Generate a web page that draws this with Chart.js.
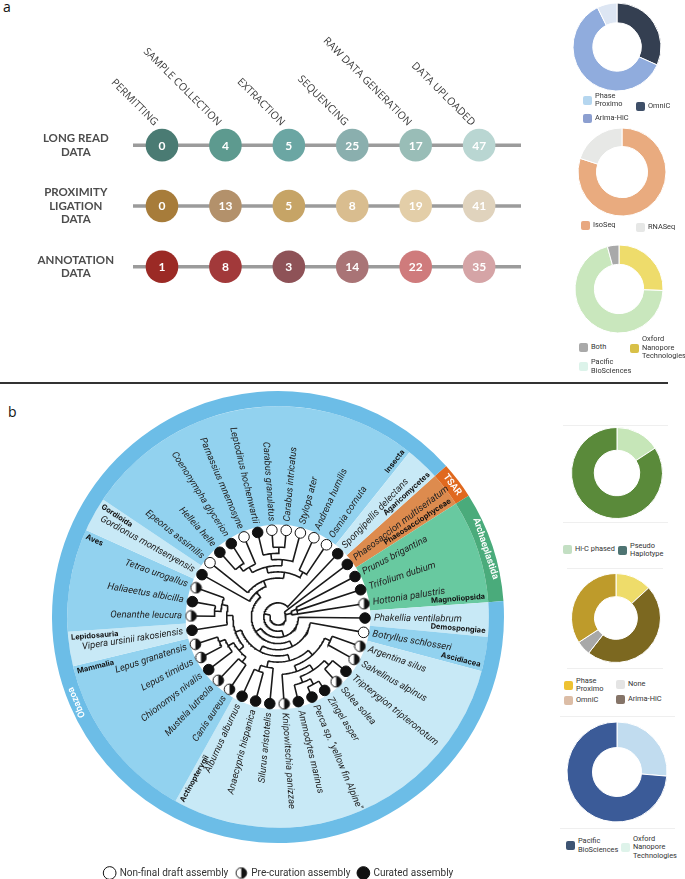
<!DOCTYPE html>
<html>
<head>
<meta charset="utf-8">
<script src="https://cdn.jsdelivr.net/npm/chart.js@4.4.1/dist/chart.umd.min.js"></script>
<style>
  body { margin: 0; width: 685px; height: 879px; position: relative; background: #fff; overflow: hidden; font-family: Roboto, sans-serif; }
  canvas, .abs { position: absolute; }
  .tag { font-family: "Open Sans", sans-serif; font-size: 14px; color: #111; }
  .leg { position: absolute; display: flex; align-items: center; height: 20px; font-family: Roboto, sans-serif; font-size: 7.4px; line-height: 8.4px; color: #333; }
  .leg i { display: inline-block; width: 9px; height: 9px; border-radius: 2px; margin-right: 3px; flex: none; }
  .sep { position: absolute; height: 1px; background: #efefef; }
  .rule { position: absolute; left: 0; top: 382px; width: 668px; height: 2px; background: #333; }
</style>
</head>
<body>
<div class="abs tag" style="left:3px;top:-3px">a</div>
<div class="abs tag" style="left:8px;top:402px">b</div>
<div class="rule"></div>

<canvas id="pipeline" width="535" height="330" style="left:0;top:0"></canvas>
<canvas id="donutProx" width="94" height="94" style="left:570px;top:0"></canvas>
<canvas id="donutRna" width="94" height="94" style="left:575px;top:125px"></canvas>
<canvas id="donutLong" width="94" height="94" style="left:572px;top:242px"></canvas>

<canvas id="treeBg" width="460" height="460" style="left:48px;top:387px"></canvas>
<canvas id="tree" width="460" height="460" style="left:48px;top:387px"></canvas>
<canvas id="treeLegend" width="400" height="70" style="left:79px;top:860px"></canvas>

<div class="sep" style="left:563px;top:425px;width:105px"></div>
<div class="sep" style="left:563px;top:522px;width:105px"></div>
<div class="sep" style="left:567px;top:568px;width:96px"></div>
<div class="sep" style="left:567px;top:668px;width:96px"></div>
<div class="sep" style="left:560px;top:716px;width:115px"></div>
<div class="sep" style="left:560px;top:828px;width:115px"></div>
<canvas id="donutPhase" width="98" height="98" style="left:568px;top:424px"></canvas>
<canvas id="donutHic" width="96" height="96" style="left:568px;top:570px"></canvas>
<canvas id="donutTech" width="106" height="106" style="left:564px;top:719px"></canvas>

<script>
// ---------- panel a: pipeline ----------
const stageLabels = ["PERMITTING", "SAMPLE COLLECTION", "EXTRACTION", "SEQUENCING", "RAW DATA GENERATION", "DATA UPLOADED"];
const rowLabels = [["LONG READ", "DATA"], ["PROXIMITY", "LIGATION", "DATA"], ["ANNOTATION", "DATA"]];
const longReadCounts = [0, 4, 5, 25, 17, 47];
const proximityCounts = [0, 13, 5, 8, 19, 41];
const annotationCounts = [1, 8, 3, 14, 22, 35];
const longReadColors = ["#4a7b73", "#5d9a8f", "#6ba6a3", "#8aafae", "#99bdb7", "#b9d6d2"];
const proximityColors = ["#a77c3a", "#b3916b", "#c6a466", "#d9bd8f", "#e3cea8", "#e0d3bd"];
const annotationColors = ["#9b2a25", "#a2393a", "#8e5257", "#a97476", "#cf7b7c", "#d5a4a6"];

// ---------- panel a: donuts ----------
const proxLabels = ["OmniC", "Arima-HiC", "Phase Proximo"];
const proxCounts = [13, 25, 3];
const rnaLabels = ["IsoSeq", "RNASeq"];
const rnaCounts = [28, 7];
const longLabels = ["Oxford Nanopore Technologies", "Pacific BioSciences", "Both"];
const longCounts = [12, 33, 2];

// ---------- panel b: donuts ----------
const phaseLabels = ["Hi-C phased", "Pseudo Haplotype"];
const phaseCounts = [6, 32];
const hicLabels = ["Phase Proximo", "OmniC", "None", "Arima-HiC"];
const hicCounts = [5, 18, 2, 13];
const techLabels = ["Oxford Nanopore Technologies", "Pacific BioSciences"];
const techCounts = [10, 28];

// ---------- panel b: tree ----------
// species, clockwise starting from Phaeosaccion
const speciesNames = [
  "Phaeosaccion multiseriatum", "Prunus brigantina", "Trifolium dubium", "Hottonia palustris",
  "Phakellia ventilabrum", "Botryllus schlosseri", "Argentina silus", "Salvelinus alpinus",
  "Tripterygion tripteronotum", "Solea solea", "Zingel asper", "Perca sp. \"yellow fin Alpine\"",
  "Ammodytes marinus", "Knipowitschia panizzae", "Silurus aristotelis", "Anaecypris hispanica",
  "Alburnus alburnus", "Canis aureus", "Mustela lutreola", "Chionomys nivalis", "Lepus timidus",
  "Lepus granatensis", "Vipera ursinii rakosiensis", "Oenanthe leucura", "Haliaeetus albicilla",
  "Tetrao urogallus", "Gordionus montsenyensis", "Epeorus assimilis", "Helleia helle",
  "Coenonympha glycerion", "Parnassius mnemosyne", "Leptodirus hochenwartii", "Carabus granulatus",
  "Carabus intricatus", "Stylops ater", "Andrena humilis", "Osmia cornuta", "Spongipellis delectans"
];
// 0 = non-final draft, 1 = pre-curation, 2 = curated
const speciesStatus = [
  2, 2, 2, 1,
  2, 0, 1, 1,
  2, 1, 2, 2,
  2, 1, 2, 2,
  2, 1, 1, 2, 1,
  1, 2, 1, 2,
  1, 2, 0, 2,
  2, 0, 2, 0,
  0, 0, 0, 0, 2
];
const statusLabels = ["Non-final draft assembly", "Pre-curation assembly", "Curated assembly"];

const treeTopology = [
  "Phaeosaccion multiseriatum",
  [["Prunus brigantina", "Trifolium dubium"], "Hottonia palustris"],
  [
    ["Phakellia ventilabrum",
      [
        ["Botryllus schlosseri",
          [
            [
              [["Argentina silus", "Salvelinus alpinus"],
                [[["Tripterygion tripteronotum", "Solea solea"],
                  [["Zingel asper", "Perca sp. \"yellow fin Alpine\""], "Ammodytes marinus"]],
                 "Knipowitschia panizzae"]],
              ["Silurus aristotelis", ["Anaecypris hispanica", "Alburnus alburnus"]]
            ],
            [
              [["Canis aureus", "Mustela lutreola"], ["Chionomys nivalis", ["Lepus timidus", "Lepus granatensis"]]],
              ["Vipera ursinii rakosiensis", [["Oenanthe leucura", "Haliaeetus albicilla"], "Tetrao urogallus"]]
            ]
          ]
        ],
        ["Gordionus montsenyensis",
          ["Epeorus assimilis",
            [
              [[["Helleia helle", "Coenonympha glycerion"], "Parnassius mnemosyne"],
               [["Leptodirus hochenwartii", ["Carabus granulatus", "Carabus intricatus"]], "Stylops ater"]],
              ["Andrena humilis", "Osmia cornuta"]
            ]
          ]
        ]
      ]
    ],
    "Spongipellis delectans"
  ]
];

// class sectors, clockwise from Phaeosaccion (number of species each)
const cladeNames = ["Phaeosacciophyceae", "Magnoliopsida", "Demospongiae", "Ascidiacea", "Actinopterygii",
  "Mammalia", "Lepidosauria", "Aves", "Gordioida", "Insecta", "Agaricomycetes"];
const cladeSizes = [1, 3, 1, 1, 11, 5, 1, 3, 1, 10, 1];
const groupNames = ["TSAR", "Archaeplastida", "Obazoa"];
const groupSizes = [1, 3, 34];

// ---------- helpers ----------
Chart.defaults.font.family = "Roboto, sans-serif";
const noise = { responsive: false, animation: false, events: [] };

function donut(id, labels, values, colors, radius, cutout) {
  return new Chart(document.getElementById(id), {
    type: "doughnut",
    data: { labels, datasets: [{ data: values, backgroundColor: colors, borderColor: "#fff", borderWidth: 1 }] },
    options: { ...noise, radius, cutout, plugins: { legend: { display: false }, tooltip: { enabled: false } } }
  });
}

// html legend: items = [label, colour, left, centreY, textWidth]
function legend(items) {
  items.forEach(([label, color, x, y, w]) => {
    const d = document.createElement("div");
    d.className = "leg";
    d.style.left = x + "px";
    d.style.top = (y - 10) + "px";
    d.innerHTML = `<i style="background:${color}"></i><span style="max-width:${w}px">${label}</span>`;
    document.body.appendChild(d);
  });
}

// ---------- pipeline chart ----------
const rowCounts = [longReadCounts, proximityCounts, annotationCounts];
const rowColors = [longReadColors, proximityColors, annotationColors];

const pipelinePlugin = {
  id: "pipelineDecor",
  beforeDatasetsDraw(chart) {
    const { ctx, chartArea, scales } = chart;
    ctx.save();
    ctx.strokeStyle = "#9b9b9b";
    ctx.lineWidth = 3.5;
    rowCounts.forEach((_, r) => {
      const y = scales.y.getPixelForValue(r);
      ctx.beginPath();
      ctx.moveTo(chartArea.left, y);
      ctx.lineTo(chartArea.right, y);
      ctx.stroke();
    });
    ctx.restore();
  },
  afterDatasetsDraw(chart) {
    const { ctx } = chart;
    ctx.save();
    ctx.fillStyle = "#fff";
    ctx.font = "bold 12px Lato, Roboto, sans-serif";
    ctx.textAlign = "center";
    ctx.textBaseline = "middle";
    rowCounts.forEach((counts, r) => {
      chart.getDatasetMeta(r).data.forEach((pt, i) => ctx.fillText(String(counts[i]), pt.x, pt.y + 0.5));
    });
    ctx.restore();
  },
  afterDraw(chart) {
    const { ctx, scales } = chart;
    const y0 = scales.y.getPixelForValue(0);
    ctx.save();
    ctx.fillStyle = "#3a3a3a";
    ctx.font = "10.5px 'Open Sans', sans-serif";
    ctx.textAlign = "right";
    ctx.textBaseline = "middle";
    stageLabels.forEach((label, i) => {
      const x = scales.x.getPixelForValue(i);
      ctx.save();
      ctx.translate(x - 6, y0 - 21);
      ctx.rotate(Math.PI / 4);
      ctx.fillText(label, 0, 0);
      ctx.restore();
    });
    ctx.restore();
  }
};

new Chart(document.getElementById("pipeline"), {
  type: "scatter",
  data: {
    datasets: rowCounts.map((counts, r) => ({
      data: counts.map((_, i) => ({ x: i, y: r })),
      pointRadius: 16.3,
      pointBackgroundColor: rowColors[r],
      pointBorderWidth: 0
    }))
  },
  options: {
    ...noise,
    layout: { autoPadding: false, padding: { top: 114.75, bottom: 15.75, left: 0, right: 14 } },
    scales: {
      x: { type: "linear", min: -0.457, max: 5.66, display: false },
      y: {
        type: "linear", min: -0.5, max: 2.5, reverse: true,
        afterFit: s => { s.width = 133; },
        afterBuildTicks: s => { s.ticks = rowLabels.map((_, i) => ({ value: i })); },
        grid: { display: false, drawTicks: false },
        border: { display: false },
        ticks: {
          callback: v => rowLabels[v],
          crossAlign: "center", padding: 19, color: "#4d4d4d",
          font: { family: "Lato, sans-serif", size: 11.5, weight: "bold", lineHeight: 1.2 }
        }
      }
    },
    plugins: { legend: { display: false }, tooltip: { enabled: false } }
  },
  plugins: [pipelinePlugin]
});

// ---------- panel a donuts ----------
donut("donutProx", proxLabels, proxCounts, ["#343f51", "#90acdd", "#dde6f3"], 44, "55%");
donut("donutRna", rnaLabels, rnaCounts, ["#e9ab7f", "#e7e8e6"], 44, "58%");
donut("donutLong", longLabels, longCounts, ["#eedc6b", "#c9e7bd", "#a9a9a9"], 44, "56%");
legend([
  [proxLabels[2], "#b5d6ef", 583, 100, 34],
  [proxLabels[0], "#3e4f68", 636, 106, 40],
  [proxLabels[1], "#8c9fd0", 583, 118, 50],
  [rnaLabels[0], "#e8a880", 581, 225.5, 40],
  [rnaLabels[1], "#e6e7e6", 636, 227, 40],
  [longLabels[2], "#a9a9a9", 579, 347, 40],
  [longLabels[0], "#d8c048", 630, 348, 46],
  [longLabels[1], "#dcf3ea", 579, 366.5, 45]
]);

// ---------- panel b donuts ----------
donut("donutPhase", phaseLabels, phaseCounts, ["#c6e6b8", "#5a8a3a"], 45.5, "50%");
donut("donutHic", hicLabels, hicCounts, ["#eedc6a", "#7c6820", "#a8a8a8", "#be9b2b"], 44.5, "48%");
donut("donutTech", techLabels, techCounts, ["#c1dcef", "#3b5b98"], 50, "49%");
legend([
  [phaseLabels[0], "#c3dfc3", 563, 549, 55],
  [phaseLabels[1], "#4e7472", 618, 550, 40],
  [hicLabels[0], "#eec232", 564, 685, 34],
  [hicLabels[1], "#dcbda6", 564, 700, 40],
  [hicLabels[2], "#e4e4e4", 616, 684, 40],
  [hicLabels[3], "#857468", 616, 699.5, 50],
  [techLabels[1], "#3e5473", 566, 845.5, 45],
  [techLabels[0], "#def3ea", 621, 847.5, 46]
]);

// ---------- tree layout ----------
const step = 360 / speciesNames.length;
const firstAngle = 52.8;              // angle (deg, clockwise from top) of the first species
const R_LEAF = 87, R_ROOT = 8, R_DEEP = 76;

let leafCounter = 0;
function layout(node, depth) {
  if (typeof node === "string") {
    return { name: node, leaf: true, depth, angle: firstAngle + step * leafCounter++ };
  }
  const children = node.map(c => layout(c, depth + 1));
  return { leaf: false, depth, children, angle: (children[0].angle + children[children.length - 1].angle) / 2 };
}
const root = layout(treeTopology, 0);
let maxInternal = 0;
(function scan(n) { if (!n.leaf) { maxInternal = Math.max(maxInternal, n.depth); n.children.forEach(scan); } })(root);

const radiusOf = n => n.leaf ? R_LEAF : R_ROOT + (R_DEEP - R_ROOT) * n.depth / maxInternal;
const polar = (r, a) => ({ x: r * Math.sin(a * Math.PI / 180), y: r * Math.cos(a * Math.PI / 180) });

const branchPoints = [];
const leaves = [];
(function build(n) {
  if (n.leaf) { leaves.push(n); return; }
  const r = radiusOf(n);
  const a0 = n.children[0].angle, a1 = n.children[n.children.length - 1].angle;
  for (let a = a0; a < a1; a += 1.5) branchPoints.push(polar(r, a));
  branchPoints.push(polar(r, a1), { x: null, y: null });
  n.children.forEach(c => {
    branchPoints.push(polar(r, c.angle), polar(radiusOf(c), c.angle), { x: null, y: null });
    build(c);
  });
})(root);

function halfMarker() {
  const c = document.createElement("canvas");
  c.width = 13; c.height = 13;
  const g = c.getContext("2d");
  g.beginPath(); g.arc(6.5, 6.5, 5.3, 0, 2 * Math.PI); g.fillStyle = "#fff"; g.fill();
  g.beginPath(); g.arc(6.5, 6.5, 5.3, -Math.PI / 2, Math.PI / 2); g.closePath(); g.fillStyle = "#111"; g.fill();
  g.beginPath(); g.arc(6.5, 6.5, 5.3, 0, 2 * Math.PI); g.lineWidth = 1; g.strokeStyle = "#111"; g.stroke();
  return c;
}
const statusStyles = ["circle", halfMarker(), "circle"];
const statusFills = ["#fff", "#fff", "#111"];

// background sectors (outer ring = groups, inner = classes)
new Chart(document.getElementById("treeBg"), {
  type: "doughnut",
  data: {
    datasets: [
      { data: groupSizes, backgroundColor: ["#e0691f", "#4aab7b", "#6cbde7"], borderWidth: 0, weight: 15 },
      { data: cladeSizes, backgroundColor: ["#dd8b4e", "#68c9a0", "#c8e9f6", "#92d2ef", "#c8e9f6", "#92d2ef",
        "#c8e9f6", "#92d2ef", "#c8e9f6", "#92d2ef", "#c8e9f6"], borderWidth: 0, weight: 117 }
    ]
  },
  options: {
    ...noise, radius: 226, cutout: 94, rotation: firstAngle - step / 2,
    plugins: { legend: { display: false }, tooltip: { enabled: false } }
  }
});

function sideOf(a) { return ((a % 360) + 360) % 360 < 180 ? "right" : "left"; }

const treeText = {
  id: "treeText",
  afterDraw(chart) {
    const { ctx, scales } = chart;
    const cx = scales.x.getPixelForValue(0), cy = scales.y.getPixelForValue(0);
    const k = (scales.x.getPixelForValue(100) - cx) / 100;
    ctx.save();
    ctx.translate(cx, cy);
    const rad = a => a * Math.PI / 180;

    // species names
    ctx.fillStyle = "#222";
    ctx.font = "italic 9.5px Roboto, sans-serif";
    ctx.textBaseline = "middle";
    leaves.forEach(l => {
      ctx.save();
      if (sideOf(l.angle) === "right") {
        ctx.rotate(rad(l.angle - 90)); ctx.textAlign = "left"; ctx.fillText(l.name, 96 * k, 0);
      } else {
        ctx.rotate(rad(l.angle + 90)); ctx.textAlign = "right"; ctx.fillText(l.name, -96 * k, 0);
      }
      ctx.restore();
    });

    // class labels at the clockwise end of each sector
    ctx.fillStyle = "#111";
    ctx.font = "bold 7.5px Inter, Roboto, sans-serif";
    let cum = 0;
    cladeNames.forEach((name, i) => {
      cum += cladeSizes[i];
      const a = firstAngle - step / 2 + cum * step - 0.6;
      ctx.save();
      if (sideOf(a) === "right") {
        ctx.rotate(rad(a - 90)); ctx.textAlign = "right"; ctx.textBaseline = "bottom"; ctx.fillText(name, 208 * k, 0);
      } else {
        ctx.rotate(rad(a + 90)); ctx.textAlign = "left"; ctx.textBaseline = "top"; ctx.fillText(name, -208 * k, 0);
      }
      ctx.restore();
    });

    // group labels in the outer ring
    ctx.fillStyle = "#fff";
    ctx.font = "600 9.5px Roboto, sans-serif";
    ctx.textAlign = "center";
    ctx.textBaseline = "middle";
    cum = 0;
    groupNames.forEach((name, i) => {
      const a = firstAngle - step / 2 + (cum + groupSizes[i] / 2) * step;
      cum += groupSizes[i];
      const p = polar(218.5 * k, a);
      ctx.save();
      ctx.translate(p.x, -p.y);
      ctx.rotate(rad(a));
      ctx.fillText(name, 0, 0);
      ctx.restore();
    });
    ctx.restore();
  }
};

new Chart(document.getElementById("tree"), {
  type: "scatter",
  data: {
    datasets: [
      ...statusLabels.map((label, s) => ({
        label,
        order: 0,
        data: leaves.filter(l => speciesStatus[speciesNames.indexOf(l.name)] === s).map(l => polar(R_LEAF, l.angle)),
        pointStyle: statusStyles[s],
        pointRadius: 5.3,
        pointBackgroundColor: statusFills[s],
        pointBorderColor: "#111",
        pointBorderWidth: 1
      })),
      {
        label: "branches", order: 1, data: branchPoints, showLine: true, spanGaps: false,
        borderColor: "#1a1a1a", borderWidth: 1.6, pointRadius: 0
      }
    ]
  },
  options: {
    ...noise,
    layout: { autoPadding: false, padding: 0 },
    scales: {
      x: { type: "linear", min: -230, max: 230, display: false },
      y: { type: "linear", min: -230, max: 230, display: false }
    },
    plugins: { legend: { display: false }, tooltip: { enabled: false } }
  },
  plugins: [treeText]
});

// status legend
new Chart(document.getElementById("treeLegend"), {
  type: "scatter",
  data: {
    datasets: statusLabels.map((label, s) => ({
      label, data: [],
      pointStyle: statusStyles[s],
      backgroundColor: statusFills[s], pointBackgroundColor: statusFills[s],
      borderColor: "#111", pointBorderColor: "#111", borderWidth: 1
    }))
  },
  options: {
    ...noise,
    layout: { padding: 0 },
    scales: { x: { display: false }, y: { display: false } },
    plugins: {
      legend: {
        display: true, position: "top",
        labels: { usePointStyle: true, boxHeight: 9, padding: 8, color: "#333", font: { family: "Roboto, sans-serif", size: 10 } }
      },
      tooltip: { enabled: false }
    }
  }
});
</script>
</body>
</html>
